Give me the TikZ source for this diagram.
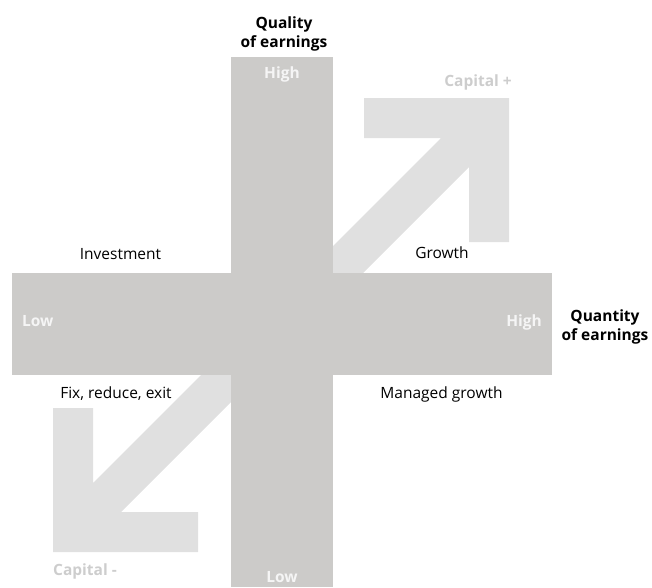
\documentclass[tikz,border=0pt]{standalone}
\usepackage{fontspec}
\setmainfont{Open Sans}
\definecolor{bargrey}{RGB}{204,203,201}
\definecolor{arrowgrey}{RGB}{224,224,224}
\definecolor{capgrey}{RGB}{205,205,205}
\definecolor{lowwhite}{RGB}{245,245,245}
\tikzset{
  lbl/.style={inner sep=0pt, anchor=base, font=\fontsize{15.5}{19}\selectfont, text=black},
  axislbl/.style={inner sep=0pt, anchor=base, font=\fontsize{15.5}{19}\selectfont\bfseries, text=black},
  onbar/.style={inner sep=0pt, anchor=base, font=\fontsize{15.5}{19}\selectfont\bfseries, text=lowwhite},
  captext/.style={inner sep=0pt, anchor=base, font=\fontsize{15.5}{19}\selectfont\bfseries, text=capgrey}
}
\begin{document}
\begin{tikzpicture}[x=1pt,y=-1pt]
\useasboundingbox (0,0) rectangle (652,587);
% diagonal arrows
\fill[arrowgrey] (364,98) -- (509,98) -- (509,242) -- (469,242) -- (469,167) -- (282,354) -- (282,297) -- (441,138) -- (364,138) -- cycle;
\fill[arrowgrey] (198,552) -- (53,552) -- (53,408) -- (93,408) -- (93,483) -- (280,296) -- (280,353) -- (121,512) -- (198,512) -- cycle;
% bars
\fill[bargrey] (231,57) rectangle (333,587);
\fill[bargrey] (12,273) rectangle (552,375);
% labels
\node[axislbl] (qual1) at (284,28) {Quality};
\node[axislbl] (qual2) at (284,47) {of earnings};
\node[axislbl] (quant1) at (605,321) {Quantity};
\node[axislbl] (quant2) at (605,340) {of earnings};
\node[onbar] (hightop) at (282,78) {High};
\node[onbar] (lowbot) at (282,582) {Low};
\node[onbar, anchor=base west] (lowleft) at (22,326) {Low};
\node[onbar, anchor=base east] (highright) at (542,326) {High};
\node[captext, anchor=base east] (capplus) at (512,86) {Capital +};
\node[captext, anchor=base west] (capminus) at (53,575) {Capital -};
\node[lbl] (invest) at (120.5,259) {Investment};
\node[lbl] (growth) at (442,258) {Growth};
\node[lbl] (fix) at (116,398.5) {Fix, reduce, exit};
\node[lbl] (managed) at (441.5,398) {Managed growth};
\end{tikzpicture}
\end{document}
